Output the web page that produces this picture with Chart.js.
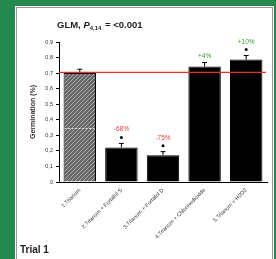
<!DOCTYPE html>
<html><head><meta charset="utf-8">
<script src="https://cdn.jsdelivr.net/npm/chart.js@4"></script>
<style>html,body{margin:0;padding:0;background:#23894f;}#wrap{width:276px;height:259px;position:relative}</style>
</head><body><div id="wrap"><canvas id="c" width="276" height="259"></canvas></div>
<script>
const categories = ["1.Trianum","2.Trianum + Fortafol S","3.Trianum + Fortafol D","4.Trianum + Chlorinedioxide","5.Trianum + H2O2"];
const germination = [0.70, 0.222, 0.172, 0.742, 0.787];
const errorUp = [0.025, 0.026, 0.023, 0.026, 0.026];
const changeLabels = ["", "-68%", "-75%", "+4%", "+10%"];
const significant = [false, true, true, false, true];
const yTicks = [0,0.1,0.2,0.3,0.4,0.5,0.6,0.7,0.8,0.9];
const referenceLevel = 0.705;
const controlMarkLevel = 0.35;

const ctx0 = document.getElementById('c').getContext('2d');
function hatch(){
  const p = document.createElement('canvas'); p.width=4; p.height=4;
  const g = p.getContext('2d');
  g.fillStyle='#666'; g.fillRect(0,0,4,4);
  g.strokeStyle='#b0b0b0'; g.lineWidth=1;
  g.beginPath(); g.moveTo(0,4); g.lineTo(4,0); g.moveTo(-1,1); g.lineTo(1,-1); g.moveTo(3,5); g.lineTo(5,3); g.stroke();
  return ctx0.createPattern(p,'repeat');
}
const fills = categories.map((c,i)=> i===0 ? hatch() : '#000');
const FF='"Liberation Sans", Arial, sans-serif';

const bg = {
  id:'bg',
  beforeDraw(chart){
    const c=chart.ctx; c.save();
    c.fillStyle='#23894f'; c.fillRect(0,0,276,259);
    c.fillStyle='#fff'; c.fillRect(15,6,259,253);
    c.strokeStyle='#9a9a9a'; c.lineWidth=1; c.strokeRect(16.5,7.5,256,253);
    c.restore();
  },
  afterDatasetsDraw(chart){
    const c=chart.ctx, y=chart.scales.y, meta=chart.getDatasetMeta(0);
    c.save();
    const b0=meta.data[0];
    c.strokeStyle='#fff'; c.setLineDash([2,1.5]); c.lineWidth=0.8;
    c.beginPath(); const yy0=Math.round(y.getPixelForValue(controlMarkLevel))+0.5;
    c.moveTo(b0.x-b0.width/2+1,yy0); c.lineTo(b0.x+b0.width/2-1,yy0); c.stroke();
    c.setLineDash([]);
    c.strokeStyle='#000'; c.lineWidth=1;
    germination.forEach((v,i)=>{
      const px=meta.data[i].x, y1=y.getPixelForValue(v), y2=y.getPixelForValue(v+errorUp[i]);
      c.beginPath(); c.moveTo(px,y1); c.lineTo(px,y2); c.moveTo(px-2.5,y2); c.lineTo(px+2.5,y2); c.stroke();
    });
    const ry=y.getPixelForValue(referenceLevel);
    c.strokeStyle='#e8302a'; c.lineWidth=1.2;
    c.beginPath(); c.moveTo(chart.chartArea.left,ry); c.lineTo(chart.chartArea.right-1,ry); c.stroke();
    c.textAlign='center'; c.textBaseline='alphabetic';
    germination.forEach((v,i)=>{
      const px=meta.data[i].x, top=y.getPixelForValue(v+errorUp[i]);
      let yy=top-5;
      if(significant[i]){ c.fillStyle='#000'; c.beginPath(); c.arc(px,yy-1,1.5,0,Math.PI*2); c.fill(); yy-=7; }
      if(changeLabels[i]){
        c.fillStyle = changeLabels[i][0]==='-' ? '#e8413c' : '#3f9a3a';
        c.font='6.5px '+FF;
        c.fillText(changeLabels[i],px,yy);
      }
    });
    c.fillStyle='#222'; c.textAlign='left';
    let tx=57, ty=28;
    c.font='bold 9.5px '+FF;
    c.fillText('GLM, ',tx,ty); tx+=c.measureText('GLM, ').width;
    c.font='italic bold 9.5px '+FF;
    c.fillText('P',tx,ty); tx+=c.measureText('P').width;
    c.font='bold 6px '+FF;
    c.fillText('4,14',tx,ty+2); tx+=c.measureText('4,14').width+1;
    c.font='bold 9.5px '+FF;
    c.fillText(' = <0.001',tx,ty);
    c.font='bold 10px '+FF;
    c.fillText('Trial 1',20,253);
    c.restore();
  }
};

new Chart(document.getElementById('c'),{
  type:'bar',
  data:{labels:categories,datasets:[{data:germination,backgroundColor:fills,borderColor:'#000',borderWidth:1,barPercentage:0.78,categoryPercentage:1}]},
  options:{
    responsive:false, animation:false, devicePixelRatio:1,
    layout:{padding:{left:29,right:9,top:42,bottom:0}},
    plugins:{legend:{display:false},tooltip:{enabled:false},title:{display:false}},
    scales:{
      x:{
        grid:{display:false,drawTicks:false},
        border:{display:true,color:'#000'},
        afterFit(s){s.height=77;},
        ticks:{maxRotation:45,minRotation:45,padding:5,color:'#333',font:{size:5.5,family:FF}}
      },
      y:{
        min:0,max:0.9,
        afterFit(s){s.width=30;},
        afterBuildTicks(s){s.ticks=yTicks.map(v=>({value:v}));},
        grid:{display:true,drawOnChartArea:false,drawTicks:true,tickLength:3,color:'#000'},
        border:{display:true,color:'#000'},
        title:{display:true,text:'Germination (%)',color:'#333',font:{size:7,weight:'bold',family:FF},padding:{top:0,bottom:2}},
        ticks:{padding:3,color:'#333',font:{size:5.5,family:FF},callback:v=> v===0?'0':v.toFixed(1).replace('.',',')}
      }
    }
  },
  plugins:[bg]
});
</script></body></html>
